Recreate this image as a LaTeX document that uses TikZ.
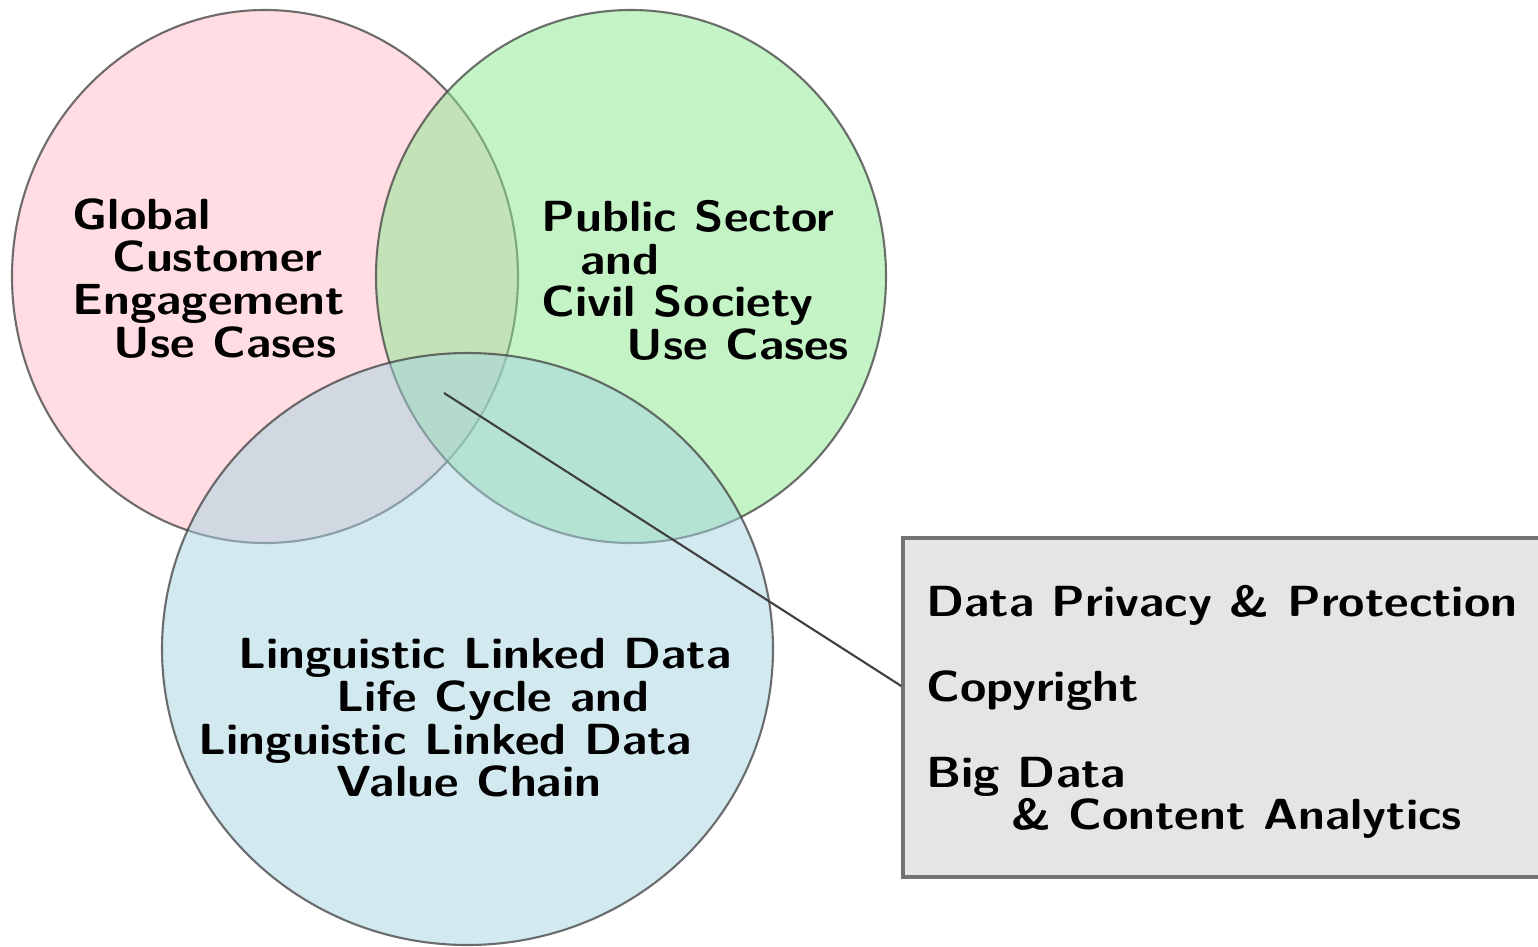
\documentclass[tikz,border=0pt]{standalone}
\usepackage{tikz,xcolor}
\definecolor{vennpink}{RGB}{255,187,197}
\definecolor{venngreen}{RGB}{137,233,141}
\definecolor{vennblue}{RGB}{165,211,225}
\tikzset{
	venn/.style={draw=black!75, line width=0.6pt, fill opacity=0.5, draw opacity=0.75},
	label text/.style={font=\sffamily\bfseries\fontsize{12.4}{12.1}\selectfont, xscale=1.1, align=left, inner sep=0pt, anchor=north west},
	topic box/.style={draw=black!55, line width=0.9pt, fill=black!10, align=left, xscale=1.1, minimum width=5.8cm, minimum height=3.39cm, font=\sffamily\bfseries\fontsize{12.4}{12.1}\selectfont},
	link/.style={draw=black!75, line width=0.6pt}
	}

\begin{document}
\begin{tikzpicture}[font=\sffamily]

	\useasboundingbox (0,0) rectangle (15.38,-9.47);

	% the three sets
	\draw[venn, fill=vennpink] (2.65,-2.765) ellipse (2.53 and 2.665);
	\draw[venn, fill=venngreen] (6.31,-2.765) ellipse (2.55 and 2.665);
	\draw[venn, fill=vennblue] (4.675,-6.49) ellipse (3.055 and 2.96);

	% set labels
	\node[label text] (global) at (0.72,-1.98) {Global\\\hspace*{0.36cm}Customer\\Engagement\\\hspace*{0.37cm}Use Cases};
	\node[label text] (public) at (5.41,-2.0) {Public Sector\\\hspace*{0.35cm}and\\Civil Society\\\hspace*{0.77cm}Use Cases};
	\node[label text] (lld) at (1.98,-6.38) {\hspace*{0.36cm}Linguistic Linked Data\\\hspace*{1.25cm}Life Cycle and\\Linguistic Linked Data\\\hspace*{1.25cm}Value Chain};

	% common topics in the middle
	\node[topic box] (topics) at (12.22,-7.075) {\rule{0pt}{0.4cm}Data Privacy \& Protection\\[0.43cm]Copyright\\[0.43cm]Big Data\\\hspace*{0.77cm}\& Content Analytics};
	\coordinate (spot) at (4.44,-3.93);
	\draw[link] (spot) -- ([yshift=0.215cm]topics.west);

\end{tikzpicture}
\end{document}
